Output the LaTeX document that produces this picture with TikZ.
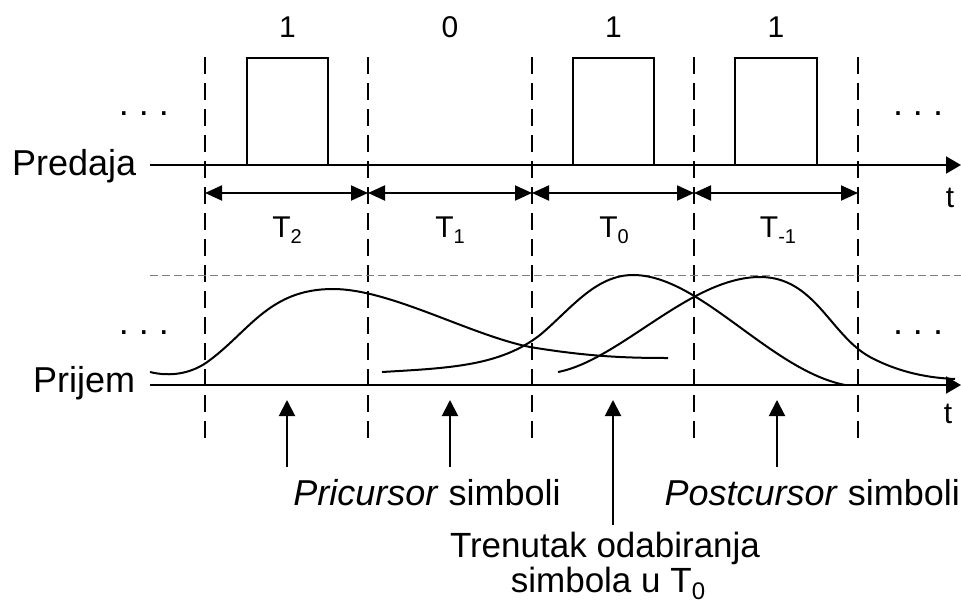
\documentclass[tikz,border=0pt]{standalone}
\usepackage{fontspec}
\setmainfont{Liberation Sans}
\usetikzlibrary{arrows.meta}
\newcommand{\lowsub}[2]{\raisebox{-0.2em}{\fontsize{#1}{#1}\selectfont #2}}
\begin{document}
\begin{tikzpicture}[x=1pt,y=-1pt,
  axisline/.style={line width=2pt,-{Triangle[length=15pt,width=17pt]}},
  pulseline/.style={line width=1.9pt},
  slotline/.style={line width=2.8pt,dash pattern=on 17pt off 9pt},
  guideline/.style={line width=1pt,gray,dash pattern=on 8pt off 4pt},
  spanarrow/.style={line width=2pt,{Triangle[length=17pt,width=15pt]}-{Triangle[length=17pt,width=15pt]}},
  pointer/.style={line width=2pt,-{Triangle[length=16pt,width=16pt]}},
  respcurve/.style={line width=2pt},
  bigtext/.style={font=\fontsize{36}{40}\selectfont, inner sep=0pt},
  midtext/.style={font=\fontsize{30}{34}\selectfont, inner sep=0pt},
]
\useasboundingbox (0,0) rectangle (961,613);

% slot boundaries
\foreach \i/\x in {1/205,2/368,3/532,4/694,5/858}{
  \coordinate (v\i t) at (\x,57);
  \coordinate (v\i b) at (\x,440);
  \coordinate (s\i) at (\x,193);
}
\foreach \i in {1,...,5}{ \draw[slotline] (v\i t) -- (v\i b); }

% guide line
\coordinate (g1) at (150,275);
\coordinate (g2) at (961,275);
\draw[guideline] (g1) -- (g2);

% axes
\coordinate (a1) at (150,165);
\coordinate (a2) at (961,165);
\coordinate (b1) at (150,385);
\coordinate (b2) at (961,385);
\draw[axisline] (a1) -- (a2);
\draw[axisline] (b1) -- (b2);

% pulses
\draw[pulseline] (247,165) -- (247,58) -- (328,58) -- (328,165);
\draw[pulseline] (573,165) -- (573,58) -- (654,58) -- (654,165);
\draw[pulseline] (735,165) -- (735,58) -- (817,58) -- (817,165);

% bit labels
\node[midtext,anchor=base] (bit1) at (287.5,37) {1};
\node[midtext,anchor=base] (bit2) at (450,37) {0};
\node[midtext,anchor=base] (bit3) at (613.5,37) {1};
\node[midtext,anchor=base] (bit4) at (776,37) {1};

% span arrows
\draw[spanarrow] (s1) -- (s2);
\draw[spanarrow] (s2) -- (s3);
\draw[spanarrow] (s3) -- (s4);
\draw[spanarrow] (s4) -- (s5);

\node[midtext,anchor=base] (tl1) at (287,237) {T\lowsub{20}{2}};
\node[midtext,anchor=base] (tl2) at (450,237) {T\lowsub{20}{1}};
\node[midtext,anchor=base] (tl3) at (614,237) {T\lowsub{20}{0}};
\node[midtext,anchor=base] (tl4) at (778,237) {T\lowsub{20}{-1}};

\node[midtext,anchor=base] (tt1) at (950,207) {t};
\node[midtext,anchor=base] (tt2) at (948,423) {t};

% side labels
\node[bigtext,anchor=base west] (pred) at (12,175) {Predaja};
\node[bigtext,anchor=base west] (prij) at (33,392) {Prijem};
\node[bigtext,anchor=base] (d1) at (144,115) {.\ .\ .};
\node[bigtext,anchor=base] (d2) at (918,115) {.\ .\ .};
\node[bigtext,anchor=base] (d3) at (144,334) {.\ .\ .};
\node[bigtext,anchor=base] (d4) at (918,334) {.\ .\ .};

% received pulses
\draw[respcurve] (150,372) .. controls (170,377) and (192,374) .. (210,360)
  .. controls (250,330) and (270,289) .. (333,289)
  .. controls (390,289) and (470,335) .. (530,347)
  .. controls (590,357) and (630,358) .. (668,358);
\draw[respcurve] (382,372) .. controls (450,368) and (500,366) .. (540,335)
  .. controls (570,310) and (595,275) .. (633,275)
  .. controls (700,275) and (770,370) .. (845,385);
\draw[respcurve] (558,372) .. controls (620,360) and (690,277) .. (760,277)
  .. controls (815,277) and (830,335) .. (870,357)
  .. controls (900,373) and (930,378) .. (955,379);

% pointer arrows
\coordinate (u1b) at (287,467); \coordinate (u1t) at (287,400);
\coordinate (u2b) at (450,467); \coordinate (u2t) at (450,400);
\coordinate (u3b) at (613,525); \coordinate (u3t) at (613,400);
\coordinate (u4b) at (777,467); \coordinate (u4t) at (777,400);
\draw[pointer] (u1b) -- (u1t);
\draw[pointer] (u2b) -- (u2t);
\draw[pointer] (u3b) -- (u3t);
\draw[pointer] (u4b) -- (u4t);

% bottom labels
\node[bigtext,anchor=base] (pri) at (427,505) {\textit{Pricursor} simboli};
\node[bigtext,anchor=base east] (post) at (960,505) {\textit{Postcursor} simboli};
\node[font=\fontsize{35}{39}\selectfont,inner sep=0pt,anchor=base] (tr1) at (605,557) {Trenutak odabiranja};
\node[font=\fontsize{35}{39}\selectfont,inner sep=0pt,anchor=base] (tr2) at (608,592) {simbola u T\lowsub{24}{0}};
\end{tikzpicture}
\end{document}
